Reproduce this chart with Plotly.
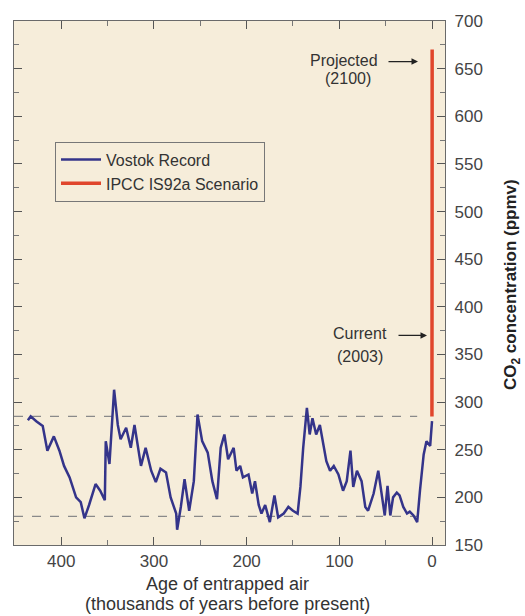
import plotly.graph_objects as go

# Vostok ice-core CO2 record: age of entrapped air (kyr before present) and ppmv
vostok_age = [
    436, 433, 427, 420, 415, 408, 402, 397, 391, 384,
    379, 375, 370, 363, 358, 353, 352, 348, 343, 339,
    336, 330, 325, 321, 314, 309, 303, 298, 293, 287,
    282, 276, 275, 271, 267, 262, 257, 253, 248, 242,
    237, 232, 228, 224, 220, 214, 211, 207, 204, 198,
    194, 191, 187, 184, 180, 175, 170, 166, 160, 155,
    150, 145, 142, 139, 135, 132, 129, 125, 121, 117,
    114, 110, 106, 101, 96, 92, 88, 85, 81, 76,
    72, 69, 63, 58, 54, 51, 48, 45, 42, 38,
    35, 31, 27, 24, 20, 16, 13, 9, 6, 2,
    0,
]
vostok_ppm = [
    281, 285, 280, 275, 249, 264, 249, 233, 221, 200,
    195, 178, 192, 214, 207, 197, 259, 235, 313, 276,
    261, 273, 252, 276, 233, 252, 228, 216, 230, 226,
    200, 183, 166, 190, 219, 186, 217, 287, 259, 247,
    217, 198, 252, 266, 240, 252, 228, 233, 221, 224,
    204, 217, 192, 183, 192, 174, 202, 179, 183, 190,
    186, 183, 211, 252, 294, 266, 283, 266, 276, 256,
    238, 228, 233, 224, 207, 217, 249, 211, 228, 217,
    190, 186, 204, 228, 200, 181, 212, 181, 200, 205,
    202, 190, 183, 185, 181, 174, 207, 245, 259, 254,
    280,
]

# IPCC IS92a scenario (years 1850, 1950, 2003, 2050, 2100 as kyr before 1950)
ipcc_age = [0.1, 0.0, -0.053, -0.1, -0.15]
ipcc_ppm = [285, 311, 375, 510, 670]

# interglacial / glacial reference levels (ppmv)
ref_levels = [285, 180]

x_ticks = [400, 300, 200, 100, 0]
y_ticks = [150, 200, 250, 300, 350, 400, 450, 500, 550, 600, 650, 700]

FONT = "Liberation Sans"
TXT = "#333333"

# plot area in pixels: x 14..445, y 15..545
def px(xp):
    return (xp - 14) / 431


def py(yp):
    return (545 - yp) / 530


fig = go.Figure()

for lvl in ref_levels:
    fig.add_shape(type="line", xref="x", yref="y", x0=451, x1=16, y0=lvl, y1=lvl,
                  line=dict(color="#8a8a8a", width=1.2, dash="dash"), layer="below")

fig.add_trace(go.Scatter(
    x=vostok_age, y=vostok_ppm, mode="lines", name="Vostok Record",
    line=dict(color="#34348a", width=2.5),
))
fig.add_trace(go.Scatter(
    x=ipcc_age, y=ipcc_ppm, mode="lines", name="IPCC IS92a Scenario",
    line=dict(color="#e0462c", width=3.5),
))

ann = [
    dict(text="Projected", x=px(344), y=py(55), size=16),
    dict(text="(2100)", x=px(348), y=py(73), size=16),
    dict(text="Current", x=px(360), y=py(331), size=16),
    dict(text="(2003)", x=px(360), y=py(354), size=16),
    dict(text="Age of entrapped air", x=px(227), y=py(584), size=18),
    dict(text="(thousands of years before present)", x=px(227), y=py(605), size=18),
]
for a in ann:
    fig.add_annotation(text=a["text"], xref="paper", yref="paper", x=a["x"], y=a["y"],
                       xanchor="center", yanchor="middle", showarrow=False,
                       font=dict(family=FONT, size=a["size"], color=TXT))

# arrows pointing at the scenario curve
for tip_x, tip_y, length in [(px(418), py(56), 31), (px(427), py(333), 30)]:
    fig.add_annotation(text="", xref="paper", yref="paper", x=tip_x, y=tip_y,
                       ax=-length, ay=0, showarrow=True, arrowhead=2, arrowsize=1,
                       arrowwidth=1.3, arrowcolor="#222222")

fig.add_annotation(text="CO<sub>2</sub> concentration (ppmv)", xref="paper", yref="paper",
                   x=px(512), y=py(282), textangle=-90,
                   xanchor="center", yanchor="middle", showarrow=False,
                   font=dict(family=FONT, size=17, color="#222222", weight="bold"))

axis_common = dict(
    showgrid=False, zeroline=False, showline=True, linecolor="#6a6a6a", linewidth=1.2,
    mirror="allticks", ticks="inside", ticklen=8, tickcolor="#555555", tickwidth=1.2,
    tickfont=dict(family=FONT, size=17, color="#444444"),
)

fig.update_xaxes(
    range=[451, -14], tickvals=x_ticks, ticktext=[str(v) for v in x_ticks],
    minor=dict(dtick=50, ticks="inside", ticklen=5, tickcolor="#777777"),
    **axis_common,
)
fig.update_yaxes(
    range=[150, 700], side="right", tickvals=y_ticks,
    ticktext=[str(v) for v in y_ticks], ticklabelstandoff=5,
    minor=dict(dtick=25, ticks="inside", ticklen=5, tickcolor="#777777"),
    **axis_common,
)

fig.update_layout(
    width=525, height=616,
    margin=dict(l=14, r=80, t=15, b=71),
    paper_bgcolor="white", plot_bgcolor="#f6edda",
    showlegend=True,
    legend=dict(x=px(55), y=py(137), xanchor="left", yanchor="top",
                bgcolor="#f6edda", bordercolor="#777777", borderwidth=1,
                font=dict(family=FONT, size=16, color=TXT),
                tracegroupgap=0, itemwidth=40),
)

fig.write_html("out.html")
